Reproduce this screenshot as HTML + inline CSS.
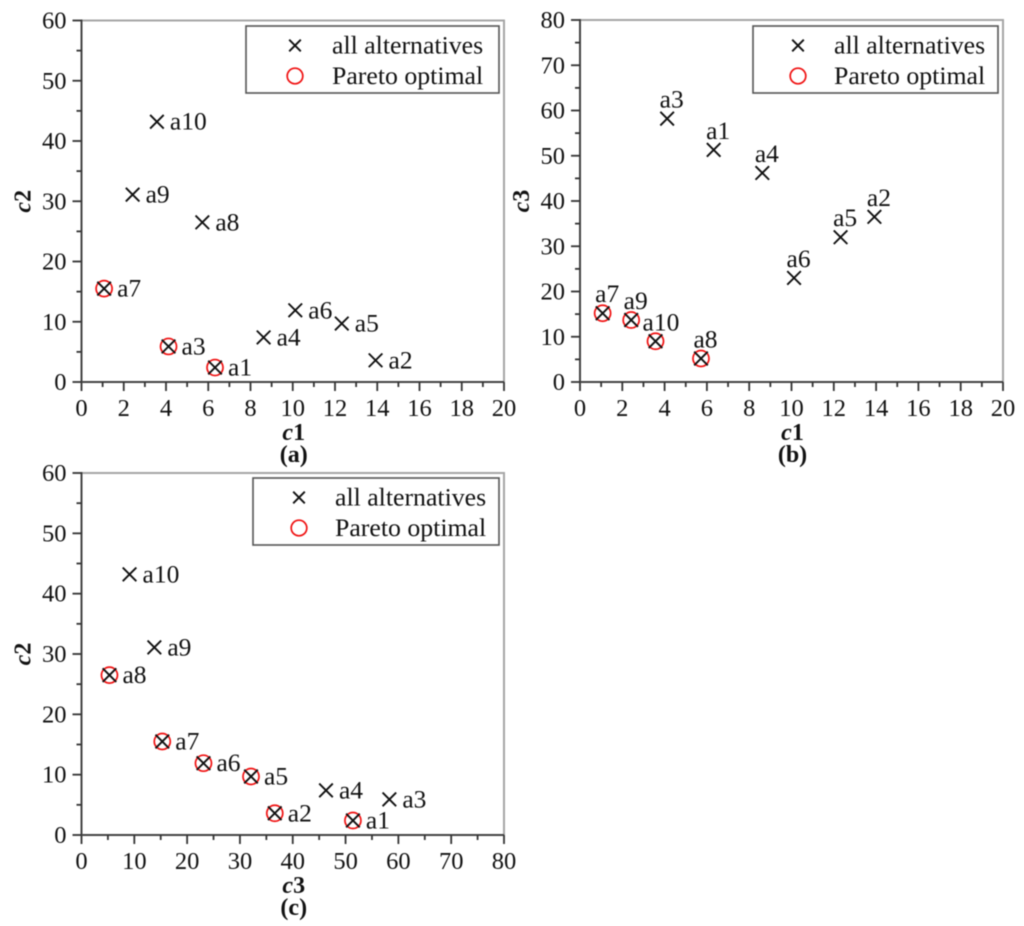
<!DOCTYPE html>
<html>
<head>
<meta charset="utf-8">
<title>Pareto optimal alternatives</title>
<style>
html,body{margin:0;padding:0;background:#fff;}
svg{display:block;filter:blur(0.45px);}
text{font-family:"Liberation Serif",serif;fill:#111;}
</style>
</head>
<body>
<svg id="fig" width="1024" height="926" viewBox="0 0 1024 926" xmlns="http://www.w3.org/2000/svg"></svg>
<script>
const altNames = ['a1','a2','a3','a4','a5','a6','a7','a8','a9','a10'];
const c1Values = [6.32,13.92,4.12,8.62,12.32,10.12,1.07,5.72,2.42,3.57];
const c2Values = [2.4,3.6,5.9,7.4,9.7,11.9,15.5,26.5,31.1,43.2];
const c3Values = [51.3,36.5,58.2,46.2,32.0,23.0,15.2,5.2,13.7,9.0];
const paretoA = ['a1','a3','a7'];
const paretoB = ['a7','a8','a9','a10'];
const paretoC = ['a1','a2','a5','a6','a7','a8'];
const ticksC1 = [0,2,4,6,8,10,12,14,16,18,20];
const ticksC2 = [0,10,20,30,40,50,60];
const ticksC3 = [0,10,20,30,40,50,60,70,80];
const legendLabels = ['all alternatives','Pareto optimal'];

const svg = document.getElementById('fig');
const NS = 'http://www.w3.org/2000/svg';
function mk(tag, attrs, parent, txt){
  const e = document.createElementNS(NS, tag);
  for (const k in attrs) e.setAttribute(k, attrs[k]);
  if (txt !== undefined) e.textContent = txt;
  parent.appendChild(e);
  return e;
}
function cross(g, x, y, r){
  mk('path',{d:`M${x-r} ${y-r}L${x+r} ${y+r}M${x-r} ${y+r}L${x+r} ${y-r}`,stroke:'#111','stroke-width':1.9,fill:'none'},g);
}
function drawPanel(p){
  const g = mk('g',{},svg);
  
  
  const sx = v => p.x0 + (v - p.xt[0]) / (p.xt[p.xt.length-1] - p.xt[0]) * (p.x1 - p.x0);
  const sy = v => p.y0 - (v - p.yt[0]) / (p.yt[p.yt.length-1] - p.yt[0]) * (p.y0 - p.y1);

  const top = mk('path',{d:`M${p.x0} ${p.y1}H${p.x1}V${p.y0}`,stroke:'#a6a6a6','stroke-width':2,fill:'none'},g);
  
  

  const xAxis = mk('g',{},g);
  
  
  const yAxis = mk('g',{},g);
  
  
  mk('line',{x1:p.x0-1,x2:p.x1,y1:p.y0,y2:p.y0,stroke:'#444','stroke-width':2},xAxis);
  mk('line',{x1:p.x0,x2:p.x0,y1:p.y1-1,y2:p.y0+1,stroke:'#444','stroke-width':2},yAxis);

  p.xt.forEach((t,i)=>{
    const x = sx(t);
    mk('line',{x1:x,x2:x,y1:p.y0,y2:p.y0+9,stroke:'#333','stroke-width':1.8},xAxis);
    mk('text',{x:x,y:p.y0+34,'text-anchor':'middle','font-size':24.5},xAxis,String(t));
    if (i < p.xt.length-1){
      const m = sx((t + p.xt[i+1]) / 2);
      mk('line',{x1:m,x2:m,y1:p.y0,y2:p.y0+5,stroke:'#333','stroke-width':1.8},xAxis);
    }
  });
  p.yt.forEach((t,i)=>{
    const y = sy(t);
    mk('line',{x1:p.x0-9,x2:p.x0,y1:y,y2:y,stroke:'#333','stroke-width':1.8},yAxis);
    mk('text',{x:p.x0-15,y:y+8,'text-anchor':'end','font-size':24.5},yAxis,String(t));
    if (i < p.yt.length-1){
      const m = sy((t + p.yt[i+1]) / 2);
      mk('line',{x1:p.x0-5,x2:p.x0,y1:m,y2:m,stroke:'#333','stroke-width':1.8},yAxis);
    }
  });

  const xTitle = mk('text',{x:(p.x0+p.x1)/2+1,y:p.y0+58,'text-anchor':'middle','font-size':24,'font-weight':'bold'},g);
  
  
  mk('tspan',{'font-style':'italic'},xTitle,p.xName[0]);
  mk('tspan',{},xTitle,p.xName[1]);
  const yTitle = mk('text',{x:0,y:0,'text-anchor':'middle','font-size':24,'font-weight':'bold',transform:`translate(${p.x0-51} ${(p.y0+p.y1)/2}) rotate(-90)`},g);
  
  
  mk('tspan',{'font-style':'italic'},yTitle,p.yName[0]);
  mk('tspan',{},yTitle,p.yName[1]);
  const cap = mk('text',{x:(p.x0+p.x1)/2+1,y:p.y0+80,'text-anchor':'middle','font-size':24,'font-weight':'bold'},g,p.caption);
  
  

  altNames.forEach((name,i)=>{
    const x = sx(p.xs[i]) + p.nudge, y = sy(p.ys[i]);
    const pt = mk('g',{},g);
    
    
    if (p.pareto.includes(name)) mk('circle',{cx:x,cy:y,r:8,fill:'none',stroke:'#f01010','stroke-width':1.7},pt);
    cross(pt,x,y,6.8);
    let lx, ly;
    if (p.labelAbove){ lx = x + (name === 'a10' ? -13 : -7.5); ly = y - 11; }
    else { lx = x + 13; ly = y + 8; }
    mk('text',{x:lx,y:ly,'font-size':25.5},pt,name);
  });

  const L = p.legend;
  const lg = mk('g',{},g);
  
  
  mk('rect',{x:L.x,y:L.y,width:L.w,height:L.h,fill:'#fff',stroke:'#555','stroke-width':1.6},lg);
  const e1 = mk('g',{},lg);
  
  
  cross(e1,L.mx,L.y+19.5,5.8);
  mk('text',{x:L.tx,y:L.y+27.5,'font-size':25.8},e1,legendLabels[0]);
  const e2 = mk('g',{},lg);
  
  
  mk('circle',{cx:L.mx,cy:L.y+50,r:7.8,fill:'none',stroke:'#f01010','stroke-width':1.7},e2);
  mk('text',{x:L.tx,y:L.y+58,'font-size':25.8},e2,legendLabels[1]);
}
drawPanel({id:'a',x0:81.5,x1:504,y0:382,y1:20.5,nudge:0,xt:ticksC1,yt:ticksC2,xs:c1Values,ys:c2Values,pareto:paretoA,
  xName:['c','1'],yName:['c','2'],caption:'(a)',labelAbove:false,legend:{x:246,y:26,w:253,h:67,mx:295,tx:332}});
drawPanel({id:'b',x0:580,x1:1003,y0:382,y1:20,nudge:0,xt:ticksC1,yt:ticksC3,xs:c1Values,ys:c3Values,pareto:paretoB,
  xName:['c','1'],yName:['c','3'],caption:'(b)',labelAbove:true,legend:{x:753,y:26,w:245,h:67,mx:798,tx:834}});
drawPanel({id:'c',x0:81.5,x1:504,y0:835,y1:473,nudge:0.5,xt:ticksC3,yt:ticksC2,xs:c3Values,ys:c2Values,pareto:paretoC,
  xName:['c','3'],yName:['c','2'],caption:'(c)',labelAbove:false,legend:{x:253,y:478,w:246,h:67,mx:299,tx:335}});
</script>
</body>
</html>
